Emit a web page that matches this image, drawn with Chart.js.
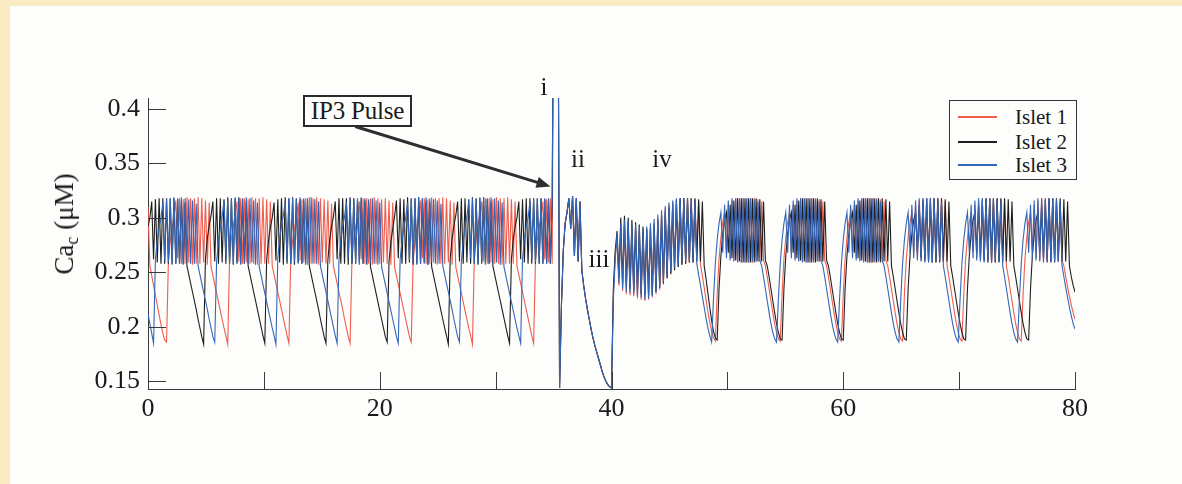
<!DOCTYPE html>
<html>
<head>
<meta charset="utf-8">
<script src="https://cdn.jsdelivr.net/npm/chart.js@4.4.1/dist/chart.umd.min.js"></script>
<style>
  html, body { margin: 0; padding: 0; }
  body { width: 1182px; height: 484px; background: #fbebc3; position: relative; overflow: hidden; font-family: "Liberation Serif", "Times New Roman", serif; color: #1a1a1a; }
  .paper { position: absolute; left: 10px; top: 6px; right: 0; bottom: 0; background: #fdfdfb; }
  #chart { position: absolute; left: 0; top: 0; }
  .note { position: absolute; font-size: 25px; line-height: 25px; white-space: nowrap; transform: translateX(-50%); }
  .ylabel { position: absolute; left: 66px; top: 224px; transform: translate(-50%, -50%) rotate(-90deg); font-size: 27px; white-space: nowrap; }
  .ylabel sub { font-size: 18px; vertical-align: -5px; }
  .pulse-box { position: absolute; left: 303px; top: 95px; width: 109px; height: 32px; box-sizing: border-box; border: 2.5px solid #2a2a2a; font-size: 25px; line-height: 27px; text-align: center; background: #fdfdfb; white-space: nowrap; letter-spacing: -0.2px; }
  .legend { position: absolute; left: 949px; top: 100px; width: 128px; height: 80px; box-sizing: border-box; border: 1px solid #333; background: #fdfdfb; }
  .legend-row { position: absolute; left: 8px; height: 24px; display: flex; align-items: center; font-size: 21px; white-space: nowrap; }
  .legend-row i { display: inline-block; width: 39px; height: 1.5px; margin-right: 18px; }
</style>
</head>
<body>
<div class="paper"></div>
<canvas id="chart" width="1182" height="484"></canvas>
<div class="ylabel">Ca<sub>c</sub> (μM)</div>
<div class="pulse-box">IP3 Pulse</div>
<div class="note" style="left:544px; top:74px;">i</div>
<div class="note" style="left:578px; top:146px;">ii</div>
<div class="note" style="left:599px; top:246px;">iii</div>
<div class="note" style="left:662px; top:146px;">iv</div>
<div class="legend" id="legend"></div>
<script>
// sampled traces, one value every dt time units starting at t = 0
const dt = 0.16;

const seriesNames = ["Islet 1", "Islet 2", "Islet 3"];
const seriesColors = ["#ef5d4e", "#1e1e1e", "#3366b8"];

const xTickValues = [0, 10, 20, 30, 40, 50, 60, 70, 80];
const xTickLabels = ["0", "", "20", "", "40", "", "60", "", "80"];
const yTickValues = [0.15, 0.2, 0.25, 0.3, 0.35, 0.4];
const yTickLabels = ["0.15", "0.2", "0.25", "0.3", "0.35", "0.4"];

// t = 0 .. 34.9
const islet1Before = [
  .31, .256, .247, .238, .229, .22, .211, .202, .194, .188,
  .186, .26, .278, .29, .301, .316, .263, .318, .258, .317, .258, .319, .259, .318, .257, .318, .258, .319, .258, .318, .259, .316, .257, .314, .255, .247, .239, .231, .223, .215, .207, .199, .192,
  .184, .263, .281, .293, .302, .315, .26, .318, .258, .318, .259, .317, .258, .319, .258, .318, .257, .318, .258, .319, .258, .317, .258, .315, .256, .248, .24, .232, .224, .216, .208, .2, .192,
  .185, .262, .279, .291, .30, .314, .261, .317, .259, .318, .257, .319, .258, .318, .258, .319, .257, .318, .259, .317, .258, .316, .258, .313, .256, .248, .240, .232, .224, .216, .207, .199, .191,
  .185, .261, .28, .292, .301, .315, .262, .318, .258, .318, .258, .318, .257, .319, .258, .318, .258, .317, .259, .318, .258, .316, .257, .314, .255, .247, .239, .231, .223, .215, .207, .199, .191,
  .186, .26, .278, .29, .301, .316, .263, .318, .258, .317, .258, .319, .259, .318, .257, .318, .258, .319, .258, .318, .259, .316, .257, .314, .255, .247, .239, .231, .223, .215, .207, .199, .192,
  .184, .263, .281, .293, .302, .315, .26, .318, .258, .318, .259, .317, .258, .319, .258, .318, .257, .318, .258, .319, .258, .317, .258, .315, .256, .248, .24, .232, .224, .216, .208, .2, .192,
  .185, .262, .28, .292, .30, .315, .262, .317, .259, .318, .258
];

const islet2Before = [
  .292, .30, .315, .262, .317, .259, .318, .258, .318, .258, .318, .258, .318, .258, .318, .258, .317, .258, .316, .258, .314, .256, .248, .240, .232, .224, .216, .207, .199, .191,
  .184, .263, .281, .293, .302, .315, .26, .318, .258, .318, .259, .317, .258, .319, .258, .318, .257, .318, .258, .319, .258, .317, .258, .315, .256, .248, .24, .232, .224, .216, .208, .2, .192,
  .185, .262, .279, .291, .30, .314, .261, .317, .259, .318, .257, .319, .258, .318, .258, .319, .257, .318, .259, .317, .258, .316, .258, .313, .256, .248, .240, .232, .224, .216, .207, .199, .191,
  .185, .261, .28, .292, .301, .315, .262, .318, .258, .318, .258, .318, .257, .319, .258, .318, .258, .317, .259, .318, .258, .316, .257, .314, .255, .247, .239, .231, .223, .215, .207, .199, .191,
  .186, .26, .278, .29, .301, .316, .263, .318, .258, .317, .258, .319, .259, .318, .257, .318, .258, .319, .258, .318, .259, .316, .257, .314, .255, .247, .239, .231, .223, .215, .207, .199, .192,
  .184, .263, .281, .293, .302, .315, .26, .318, .258, .318, .259, .317, .258, .319, .258, .318, .257, .318, .258, .319, .258, .317, .258, .315, .256, .248, .24, .232, .224, .216, .208, .2, .192,
  .185, .262, .28, .292, .30, .315, .262, .317, .259, .318, .258, .318, .258, .318, .258, .318, .258, .318, .258, .317, .258, .316, .258, .314
];

const islet3Before = [
  .212, .203, .194,
  .185, .262, .279, .291, .30, .314, .261, .317, .259, .318, .257, .319, .258, .318, .258, .319, .257, .318, .259, .317, .258, .316, .258, .313, .256, .248, .240, .232, .224, .216, .207, .199, .191,
  .186, .26, .278, .29, .301, .316, .263, .318, .258, .317, .258, .319, .259, .318, .257, .318, .258, .319, .258, .318, .259, .316, .257, .314, .255, .247, .239, .231, .223, .215, .207, .199, .192,
  .184, .263, .281, .293, .302, .315, .26, .318, .258, .318, .259, .317, .258, .319, .258, .318, .257, .318, .258, .319, .258, .317, .258, .315, .256, .248, .24, .232, .224, .216, .208, .2, .192,
  .185, .261, .28, .292, .301, .315, .262, .318, .258, .318, .258, .318, .257, .319, .258, .318, .258, .317, .259, .318, .258, .316, .257, .314, .255, .247, .239, .231, .223, .215, .207, .199, .191,
  .185, .262, .279, .291, .30, .314, .261, .317, .259, .318, .257, .319, .258, .318, .258, .319, .257, .318, .259, .317, .258, .316, .258, .313, .256, .248, .240, .232, .224, .216, .207, .199, .191,
  .186, .26, .278, .29, .301, .316, .263, .318, .258, .317, .258, .319, .259, .318, .257, .318, .258, .319, .258, .318, .259, .316, .257, .314, .255, .247, .239, .231, .223, .215, .207, .199, .192,
  .185, .262, .28, .292, .30, .315, .262, .317, .259, .318, .258, .318, .258, .318, .258, .318, .258, .318
];

// IP3 pulse and the following silent phase, t = 35.04 .. 40.0 (same for all islets)
const pulseTrace = [
  .6, .6, .6, .144, .22, .27, .295, .305, .318, .29, .32, .265, .318, .26, .315, .252,
  .238, .226, .216, .207, .198, .19, .183, .177, .171, .165, .159, .154, .15, .147, .145, .144
];

// t = 40.16 .. 80
const islet1After = [
  .23, .265, .28, .238, .29, .233, .294, .23, .292, .229, .29, .228, .289, .226, .288, .225, .287, .224, .289, .225,
  .292, .227, .296, .23, .3, .234, .305, .239, .309, .244, .312, .248, .315, .252, .317, .255, .318, .257, .318, .258,
  .318, .259, .318, .259, .317, .26, .315, .257, .247, .236, .225, .214, .204, .196, .19,
  .187, .23, .262, .282, .296, .305, .268, .312, .263, .316, .261, .318, .26, .318, .259, .318, .259, .318, .259, .318, .259, .318, .26, .317, .26, .315, .261, .256, .246, .235, .224, .213, .203, .195, .189,
  .187, .23, .262, .282, .296, .305, .268, .312, .263, .316, .261, .318, .26, .318, .259, .318, .259, .318, .259, .318, .26, .317, .26, .315, .261, .256, .246, .235, .224, .213, .203, .195, .189,
  .187, .23, .262, .282, .296, .305, .268, .312, .263, .316, .261, .318, .26, .318, .259, .318, .259, .318, .259, .318, .26, .317, .26, .315, .261, .256, .246, .235, .224, .213, .203, .195, .189,
  .187, .23, .262, .282, .296, .305, .268, .312, .263, .316, .261, .318, .26, .318, .259, .318, .259, .318, .259, .318, .26, .317, .26, .315, .256, .246, .235, .224, .213, .203, .195, .189,
  .187, .23, .262, .282, .296, .305, .268, .312, .263, .316, .261, .318, .26, .318, .259, .318, .259, .318, .259, .318, .26, .317, .26, .315, .256, .246, .235, .224, .213, .203, .195, .189,
  .187, .23, .262, .282, .296, .305, .268, .312, .263, .316, .261, .318, .26, .318, .259, .318, .259, .318, .26, .317, .26, .315, .261, .256, .246, .237, .228, .22, .213, .207
];

const islet2After = [
  .235, .27, .288, .245, .3, .24, .302, .237, .3, .235, .298, .233, .296, .232, .294, .23, .292, .229, .29, .228,
  .291, .229, .294, .232, .298, .236, .302, .24, .306, .245, .31, .249, .313, .252, .316, .255, .318, .257, .318, .258,
  .318, .259, .318, .259, .318, .26, .317, .26, .315, .256, .244, .231, .218, .206, .196, .19,
  .188, .235, .265, .285, .298, .305, .268, .312, .263, .316, .261, .318, .26, .318, .259, .318, .259, .318, .259, .318, .259, .318, .26, .317, .26, .315, .261, .256, .246, .235, .224, .213, .203, .195, .189,
  .188, .235, .265, .285, .298, .305, .268, .312, .263, .316, .261, .318, .26, .318, .259, .318, .259, .318, .259, .318, .26, .317, .26, .315, .261, .256, .246, .235, .224, .213, .203, .195, .189,
  .188, .235, .265, .285, .298, .305, .268, .312, .263, .316, .261, .318, .26, .318, .259, .318, .259, .318, .259, .318, .259, .318, .26, .317, .26, .315, .256, .246, .235, .224, .213, .203, .195, .189,
  .188, .235, .265, .285, .298, .305, .268, .312, .263, .316, .261, .318, .26, .318, .259, .318, .259, .318, .259, .318, .26, .317, .26, .315, .256, .246, .235, .224, .213, .203, .195, .189,
  .188, .235, .265, .285, .298, .305, .268, .312, .263, .316, .261, .318, .26, .318, .259, .318, .259, .318, .259, .318, .259, .318, .26, .317, .26, .315, .256, .246, .235, .224, .213, .203, .195, .189,
  .188, .235, .265, .285, .298, .305, .268, .312, .263, .316, .261, .318, .26, .318, .259, .318, .26, .318, .26, .317, .26, .315, .256, .246, .238, .232
];

const islet3After = [
  .225, .262, .285, .24, .295, .235, .298, .232, .296, .231, .295, .23, .294, .228, .292, .227, .29, .225, .292, .226,
  .295, .228, .299, .232, .303, .236, .307, .241, .311, .246, .314, .25, .316, .254, .318, .257, .318, .259, .318, .26,
  .318, .26, .317, .26, .316, .258, .248, .238, .228, .218, .208, .199, .192,
  .186, .225, .258, .28, .295, .305, .268, .312, .263, .316, .261, .318, .26, .318, .259, .318, .259, .318, .259, .318, .259, .318, .26, .317, .26, .315, .261, .256, .246, .235, .224, .213, .203, .195, .189,
  .186, .225, .258, .28, .295, .305, .268, .312, .263, .316, .261, .318, .26, .318, .259, .318, .259, .318, .259, .318, .26, .317, .26, .315, .261, .256, .246, .235, .224, .213, .203, .195, .189,
  .186, .225, .258, .28, .295, .305, .268, .312, .263, .316, .261, .318, .26, .318, .259, .318, .259, .318, .259, .318, .26, .317, .26, .315, .261, .256, .246, .235, .224, .213, .203, .195, .189,
  .186, .225, .258, .28, .295, .305, .268, .312, .263, .316, .261, .318, .26, .318, .259, .318, .259, .318, .259, .318, .26, .317, .26, .315, .256, .246, .235, .224, .213, .203, .195, .189,
  .186, .225, .258, .28, .295, .305, .268, .312, .263, .316, .261, .318, .26, .318, .259, .318, .259, .318, .259, .318, .26, .317, .26, .315, .256, .246, .235, .224, .213, .203, .195, .189,
  .186, .225, .258, .28, .295, .305, .268, .312, .263, .316, .261, .318, .26, .318, .259, .318, .259, .318, .259, .318, .26, .317, .26, .315, .256, .246, .236, .227, .218, .21, .203, .198
];

// annotation arrow, in data units
const arrowFrom = { x: 17.88, y: 0.3838 };
const arrowTo = { x: 34.73, y: 0.3289 };

const axisColor = "#3a3a3a";
const tickFont = { family: "'Liberation Serif', 'Times New Roman', serif", size: 26 };

function toPoints(values) {
  return values.map((y, i) => ({ x: Number((i * dt).toFixed(2)), y }));
}

const traces = [
  [...islet1Before, ...pulseTrace, ...islet1After],
  [...islet2Before, ...pulseTrace, ...islet2After],
  [...islet3Before, ...pulseTrace, ...islet3After]
];

// inward tick marks and the IP3 arrow
const paperAxes = {
  id: "paperAxes",
  afterDraw(chart) {
    const { ctx, chartArea, scales } = chart;
    ctx.save();
    ctx.strokeStyle = axisColor;
    ctx.lineWidth = 1;
    ctx.beginPath();
    xTickValues.forEach((v) => {
      const px = Math.round(scales.x.getPixelForValue(v)) + 0.5;
      ctx.moveTo(px, chartArea.bottom);
      ctx.lineTo(px, chartArea.bottom - 17);
    });
    yTickValues.forEach((v) => {
      const py = Math.round(scales.y.getPixelForValue(v)) + 0.5;
      ctx.moveTo(chartArea.left, py);
      ctx.lineTo(chartArea.left + 18, py);
    });
    ctx.stroke();

    const x0 = scales.x.getPixelForValue(arrowFrom.x);
    const y0 = scales.y.getPixelForValue(arrowFrom.y);
    const x1 = scales.x.getPixelForValue(arrowTo.x);
    const y1 = scales.y.getPixelForValue(arrowTo.y);
    const ang = Math.atan2(y1 - y0, x1 - x0);
    const head = 15;
    ctx.strokeStyle = "#2e2e2e";
    ctx.fillStyle = "#2e2e2e";
    ctx.lineWidth = 3;
    ctx.beginPath();
    ctx.moveTo(x0, y0);
    ctx.lineTo(x1 - head * 0.8 * Math.cos(ang), y1 - head * 0.8 * Math.sin(ang));
    ctx.stroke();
    ctx.beginPath();
    ctx.moveTo(x1, y1);
    ctx.lineTo(x1 - head * Math.cos(ang - 0.38), y1 - head * Math.sin(ang - 0.38));
    ctx.lineTo(x1 - head * Math.cos(ang + 0.38), y1 - head * Math.sin(ang + 0.38));
    ctx.closePath();
    ctx.fill();
    ctx.restore();
  }
};

const legend = document.getElementById("legend");
seriesNames.forEach((name, index) => {
  const row = document.createElement("div");
  row.className = "legend-row";
  row.style.top = [4, 29, 52][index] + "px";
  row.innerHTML = '<i style="background:' + seriesColors[index] + '"></i>' + name;
  legend.appendChild(row);
});

new Chart(document.getElementById("chart"), {
  type: "line",
  data: {
    datasets: traces.map((values, index) => ({
      label: seriesNames[index],
      data: toPoints(values),
      borderColor: seriesColors[index],
      backgroundColor: seriesColors[index],
      borderWidth: 1.1,
      pointRadius: 0,
      tension: 0,
      fill: false,
      order: [2, 1, 0][index]
    }))
  },
  options: {
    responsive: false,
    animation: false,
    events: [],
    layout: { padding: { left: 0, right: 107, top: 98, bottom: 0 } },
    plugins: { legend: { display: false }, tooltip: { enabled: false } },
    scales: {
      x: {
        type: "linear",
        min: 0,
        max: 80,
        afterBuildTicks: (scale) => { scale.ticks = xTickValues.map((value) => ({ value })); },
        afterFit: (scale) => { scale.height = 95; },
        ticks: {
          autoSkip: false,
          maxRotation: 0,
          padding: 5,
          color: "#1a1a1a",
          font: tickFont,
          callback: (value) => xTickLabels[xTickValues.indexOf(value)]
        },
        grid: { drawOnChartArea: false, drawTicks: false },
        border: { display: true, color: axisColor, width: 1 }
      },
      y: {
        type: "linear",
        min: 0.143,
        max: 0.41,
        afterBuildTicks: (scale) => { scale.ticks = yTickValues.map((value) => ({ value })); },
        afterFit: (scale) => { scale.width = 148; },
        ticks: {
          padding: 8,
          color: "#1a1a1a",
          font: tickFont,
          callback: (value) => yTickLabels[yTickValues.indexOf(value)]
        },
        grid: { drawOnChartArea: false, drawTicks: false },
        border: { display: true, color: axisColor, width: 1 }
      }
    }
  },
  plugins: [paperAxes]
});
</script>
</body>
</html>
